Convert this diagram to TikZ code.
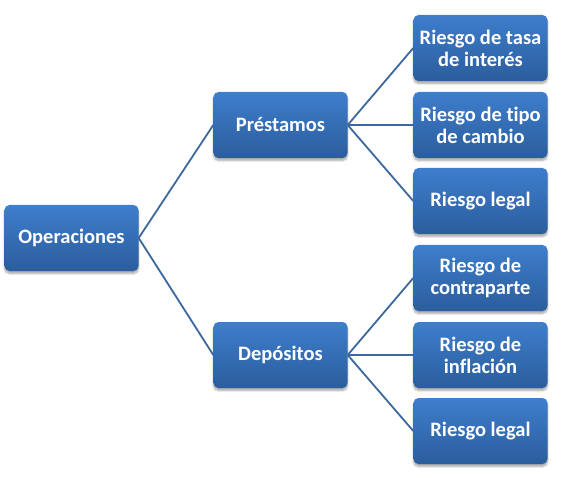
\documentclass[tikz,border=0pt]{standalone}
\usepackage{fontspec}
\setmainfont{Carlito}[Ligatures={NoCommon}]
\usepackage{tikz}
\usetikzlibrary{shadows.blur}

\definecolor{boxtop}{RGB}{62,126,204}
\definecolor{boxbot}{RGB}{43,93,157}
\definecolor{linkcol}{RGB}{60,104,160}

\tikzset{
  box/.style={rectangle, rounded corners=5pt, minimum width=134pt, minimum height=66pt,
    top color=boxtop, bottom color=boxbot, draw=none, text=white, align=center,
    font=\fontsize{20.5}{22}\selectfont\bfseries, inner sep=2pt,
    blur shadow={shadow xshift=0pt, shadow yshift=-2.5pt, shadow blur steps=6, shadow opacity=35}},
  link/.style={draw=linkcol, line width=1.8pt}
}

\begin{document}
\begin{tikzpicture}[x=1pt,y=-1pt]
\useasboundingbox (0,0) rectangle (567,478);

\node [box] (oper) at (71.5,238) {Operaciones};
\node [box] (prest) at (280.5,125) {Préstamos};
\node [box] (depos) at (280.5,355) {Depósitos};

\node [box] (tasa) at (480.5,48) {Riesgo de tasa\\de interés};
\node [box] (cambio) at (480.5,125) {Riesgo de tipo\\de cambio};
\node [box] (legalp) at (480.5,201) {Riesgo legal};
\node [box] (contra) at (480.5,278) {Riesgo de\\contraparte};
\node [box] (infla) at (480.5,355) {Riesgo de\\inflación};
\node [box] (legald) at (480.5,431) {Riesgo legal};

\draw [link] (oper.east) -- (prest.west); \draw [link] (oper.east) -- (depos.west);
\foreach \n in {tasa,cambio,legalp} \draw [link] (prest.east) -- (\n.west);
\foreach \n in {contra,infla,legald} \draw [link] (depos.east) -- (\n.west);

\end{tikzpicture}
\end{document}
